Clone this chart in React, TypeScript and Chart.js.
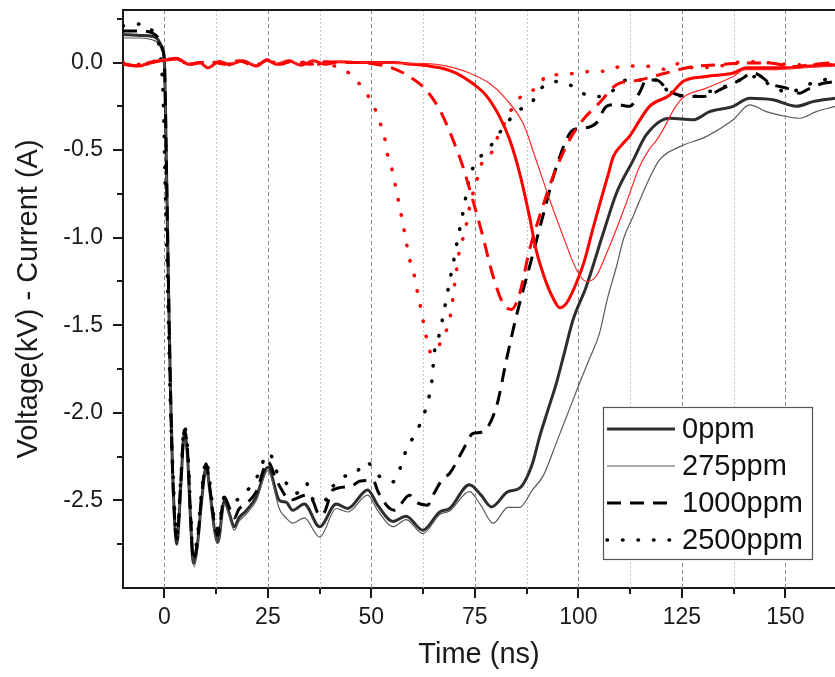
import React, { useEffect, useRef } from "react";
import { Chart, registerables } from "chart.js";

Chart.register(...registerables);

const FONT = "'Liberation Sans', Arial, sans-serif";

// ---- axis ticks ----
const xTickValues = [0, 12.5, 25, 37.5, 50, 62.5, 75, 87.5, 100, 112.5, 125, 137.5, 150];
const yTickValues = [0.25, 0, -0.25, -0.5, -0.75, -1, -1.25, -1.5, -1.75, -2, -2.25, -2.5, -2.75];
const X_MIN = -10;
const X_MAX = 162;
const Y_MIN = -3.0;
const Y_MAX = 0.3;

const legendLabels = ["0ppm", "275ppm", "1000ppm", "2500ppm"];

// ---- black series: voltage (kV) ----
const v0_t = [-10, -6, -3, -1.5, -0.5, 0, 0.5, 1, 1.5, 2, 3, 4, 4.8, 5.6, 6.3, 7, 8, 9, 10.1, 11, 12, 12.9, 14.5, 15.5, 16.9, 18, 19.7, 22.2, 25, 27.8, 29.4, 31, 33.8, 37.5, 41.5, 44.3, 49.1, 51.6, 55.2, 58.4, 62.4, 66.5, 68.9, 73.7, 76.5, 79.0, 83.0, 85.8, 88.9, 90.6, 92.7, 94.7, 96.7, 98.7, 101.9, 106.0, 109.2, 113.2, 116.4, 122.1, 127.7, 131.7, 137.4, 141.4, 147.0, 152.7, 156.7, 162];
const v0_y = [0.16, 0.155, 0.15, 0.13, 0.08, 0.0, -0.6, -1.3, -1.9, -2.35, -2.75, -2.4, -2.12, -2.25, -2.6, -2.86, -2.75, -2.5, -2.31, -2.45, -2.65, -2.74, -2.5, -2.56, -2.65, -2.6, -2.56, -2.48, -2.31, -2.5, -2.51, -2.556, -2.52, -2.65, -2.52, -2.546, -2.44, -2.53, -2.62, -2.59, -2.67, -2.566, -2.546, -2.41, -2.47, -2.537, -2.45, -2.43, -2.29, -2.14, -1.98, -1.83, -1.65, -1.47, -1.28, -0.975, -0.746, -0.56, -0.413, -0.318, -0.327, -0.28, -0.25, -0.204, -0.213, -0.25, -0.223, -0.204];

const v275_t = [-10, -6, -3, -1.5, -0.5, 0, 0.5, 1, 1.5, 2, 3, 4, 4.8, 5.6, 6.3, 7.2, 8, 9, 10.1, 11, 12, 12.9, 14.5, 15.5, 16.9, 18, 19.7, 22.2, 25, 27.8, 29.4, 31, 33.8, 37.5, 41.5, 44.3, 49.1, 51.6, 55.2, 58.4, 62.4, 66.5, 68.9, 73.7, 76.5, 79.4, 83.0, 85.8, 88.9, 91.5, 94.7, 97.5, 100.3, 102.7, 105.1, 107, 109.2, 111, 113.2, 116.4, 119.6, 124.5, 130.9, 137.4, 141.4, 145.4, 150.3, 153.5, 157.5, 162];
const v275_y = [0.14, 0.14, 0.13, 0.11, 0.06, -0.02, -0.6, -1.3, -1.9, -2.35, -2.73, -2.42, -2.15, -2.27, -2.62, -2.88, -2.77, -2.52, -2.33, -2.47, -2.67, -2.74, -2.52, -2.58, -2.67, -2.62, -2.58, -2.5, -2.33, -2.55, -2.6, -2.63, -2.6, -2.71, -2.546, -2.566, -2.47, -2.56, -2.65, -2.61, -2.69, -2.58, -2.56, -2.45, -2.53, -2.63, -2.54, -2.54, -2.44, -2.36, -2.17, -2.0, -1.83, -1.69, -1.546, -1.35, -1.166, -1.0, -0.88, -0.7, -0.556, -0.48, -0.423, -0.327, -0.242, -0.28, -0.308, -0.318, -0.28, -0.25];

const v1000_t = [-10, -6, -3, -1.5, -0.5, 0, 0.5, 1, 1.5, 2, 3, 4, 4.8, 5.6, 6.3, 7, 8, 9, 10.1, 11, 12, 12.9, 14.5, 15.5, 16.9, 18, 19.7, 22.2, 25, 27, 28.6, 30.2, 34.2, 35.8, 37.5, 38.7, 40.7, 45.1, 47.1, 50.4, 51.6, 54.4, 55.6, 59.2, 60.8, 63.6, 64.9, 67.3, 68.9, 72.1, 74.5, 76.9, 80.2, 82.6, 85.0, 88.2, 91.4, 94.7, 98.7, 100.7, 104.3, 106.8, 109.2, 112.4, 114.9, 116.4, 118.8, 122.1, 127.7, 130.1, 135.0, 139.0, 142.2, 147.0, 150.3, 153.5, 155.2, 159.1, 162];
const v1000_y = [0.18, 0.18, 0.17, 0.14, 0.08, 0.0, -0.6, -1.3, -1.9, -2.35, -2.72, -2.38, -2.1, -2.22, -2.58, -2.84, -2.73, -2.47, -2.29, -2.43, -2.62, -2.7, -2.48, -2.53, -2.6, -2.55, -2.52, -2.45, -2.28, -2.38, -2.45, -2.5, -2.47, -2.5, -2.585, -2.566, -2.44, -2.42, -2.39, -2.385, -2.45, -2.546, -2.556, -2.47, -2.51, -2.527, -2.47, -2.375, -2.346, -2.213, -2.118, -2.108, -1.966, -1.7, -1.45, -1.166, -0.88, -0.594, -0.385, -0.375, -0.346, -0.25, -0.24, -0.25, -0.166, -0.1, -0.1, -0.166, -0.194, -0.194, -0.146, -0.1, -0.06, -0.127, -0.146, -0.175, -0.156, -0.118, -0.11];

const v2500_t = [-10, -5.6, -2.8, -1.2, -0.3, 0.3, 1, 1.5, 2, 3, 4, 4.8, 5.6, 6.3, 7, 8, 9, 10.1, 11, 12, 12.9, 14.5, 15.7, 17, 19.7, 22.2, 23.8, 25.4, 27.0, 29.4, 31.8, 34.2, 35.8, 38.3, 40.7, 43.1, 45.9, 48.8, 51.6, 55.2, 57.2, 58.4, 60.4, 62.4, 63.6, 64.5, 65.3, 66.5, 67.3, 68.9, 69.7, 70.5, 71.3, 72.1, 72.9, 73.7, 75.3, 78.1, 81.0, 85.2, 88.7, 90.6, 95.1, 97.9, 101.9, 105.1, 109.2, 111.6, 115.6, 119.6, 121.7, 127.7, 131, 135, 139, 143, 147, 151, 155, 159, 162];
const v2500_y = [0.21, 0.22, 0.177, 0.08, -0.2, -0.8, -1.5, -2.0, -2.3, -2.7, -2.36, -2.08, -2.2, -2.55, -2.82, -2.7, -2.45, -2.27, -2.4, -2.6, -2.66, -2.48, -2.48, -2.5, -2.45, -2.375, -2.28, -2.23, -2.33, -2.4, -2.46, -2.4, -2.49, -2.51, -2.42, -2.366, -2.35, -2.28, -2.356, -2.394, -2.3, -2.213, -2.127, -2.03, -1.937, -1.84, -1.64, -1.546, -1.45, -1.25, -1.156, -1.05, -0.956, -0.86, -0.756, -0.66, -0.566, -0.5, -0.4, -0.28, -0.23, -0.156, -0.108, -0.127, -0.185, -0.194, -0.146, -0.1, -0.1, -0.1, -0.166, -0.194, -0.17, -0.14, -0.1, -0.08, -0.14, -0.17, -0.13, -0.1, -0.09];

// ---- red series: current (A) ----
const i0_t = [-10, -6, -3.6, 0.4, 2.8, 6.0, 8.5, 10.5, 13.3, 15.7, 18.9, 22.2, 24.7, 27, 30, 33, 36, 39, 42, 46, 50.4, 55, 60, 64, 67.5, 70.5, 74.5, 77.8, 81.0, 83.4, 85.8, 88.2, 89.8, 92.3, 94, 95.5, 97.1, 99.5, 101.5, 103.5, 105.5, 107.2, 108.4, 110.5, 112.4, 114.8, 117.2, 122.1, 125.3, 130.9, 137.4, 140.6, 147, 151.5, 156, 162];
const i0_y = [-0.01, -0.02, 0, 0.015, 0.025, -0.01, 0, -0.03, 0.006, -0.01, 0.01, -0.02, 0.015, -0.01, 0.01, -0.015, 0.01, -0.01, 0.005, 0, 0, 0, -0.01, -0.02, -0.035, -0.06, -0.12, -0.19, -0.31, -0.44, -0.63, -0.88, -1.07, -1.26, -1.35, -1.4, -1.375, -1.26, -1.13, -0.95, -0.78, -0.64, -0.54, -0.47, -0.42, -0.33, -0.25, -0.185, -0.108, -0.08, -0.06, -0.03, -0.03, -0.03, -0.02, -0.013];

const i275_t = [-10, -6, -3.6, 0.4, 2.8, 6.0, 8.5, 10.5, 13.3, 15.7, 18.9, 22.2, 24.7, 27, 30, 33, 36, 39, 42, 46, 50.4, 55, 60, 66.5, 70, 73.7, 78.6, 82.6, 86.7, 89.8, 93.1, 96.3, 99.5, 101.9, 104.3, 106.8, 109.2, 111.6, 114.8, 117, 119, 121, 123, 125.3, 130.9, 137.4, 140.2, 147, 153.5, 162];
const i275_y = [0, -0.015, 0.005, 0.02, 0.02, -0.005, 0.005, -0.025, 0.01, -0.005, 0.01, -0.015, 0.02, -0.005, 0.01, -0.01, 0.01, -0.005, 0.005, 0, 0, -0.005, -0.005, -0.013, -0.03, -0.06, -0.12, -0.21, -0.35, -0.556, -0.785, -0.99, -1.18, -1.25, -1.22, -1.09, -0.95, -0.8, -0.594, -0.5, -0.44, -0.36, -0.27, -0.2, -0.146, -0.08, -0.04, -0.04, -0.03, -0.02];

const i1000_t = [-10, -6, -3, 0.4, 3, 6, 9, 12, 15, 18, 22, 25, 28, 31, 35, 39, 43, 47, 51, 53.5, 56, 59.2, 63.2, 66.5, 69.7, 72.1, 74.5, 76.9, 79.4, 81.8, 83.8, 85.8, 88.2, 90.6, 93.9, 97.9, 101.1, 105.1, 109.2, 114.8, 121.2, 127.7, 133.4, 140.6, 146, 151.9, 157, 162];
const i1000_y = [-0.01, -0.02, 0, 0.015, 0.02, -0.01, 0, 0, -0.01, 0.01, -0.02, 0.015, -0.01, 0.01, -0.01, 0.005, 0, 0, -0.01, -0.02, -0.04, -0.08, -0.156, -0.27, -0.44, -0.594, -0.785, -0.99, -1.22, -1.375, -1.41, -1.32, -1.07, -0.88, -0.65, -0.44, -0.327, -0.23, -0.127, -0.1, -0.06, -0.023, -0.013, -0.003, -0.003, -0.023, -0.01, 0];

const i2500_t = [-10, -6, -3, 0.4, 3, 6, 9, 12, 15, 18, 22, 25, 28, 31, 35, 38, 41.5, 45.1, 48.0, 50.4, 52.0, 53.2, 54.0, 55.2, 56.0, 56.8, 57.6, 58.4, 59.2, 60.4, 61.2, 62.0, 63.2, 64.5, 65.5, 67.3, 68.9, 70.1, 71.3, 72.5, 74.1, 75.3, 76.5, 78.9, 80.6, 82.5, 84.3, 87, 90.6, 92.3, 96, 99.5, 103.5, 106.8, 110, 113.5, 117.6, 121.3, 124.9, 127.7, 133.4, 140.6, 145, 152.7, 162];
const i2500_y = [0, -0.01, 0.005, 0.015, 0.02, -0.01, 0, 0, -0.015, 0.01, -0.015, 0.01, -0.01, 0.01, -0.005, -0.01, -0.023, -0.07, -0.15, -0.24, -0.337, -0.43, -0.537, -0.63, -0.727, -0.82, -0.918, -1.02, -1.12, -1.22, -1.32, -1.41, -1.56, -1.66, -1.65, -1.566, -1.47, -1.27, -1.07, -0.975, -0.785, -0.69, -0.585, -0.52, -0.42, -0.33, -0.25, -0.175, -0.137, -0.07, -0.07, -0.06, -0.05, -0.05, -0.023, -0.02, -0.023, -0.04, 0, -0.03, -0.023, 0.006, 0, -0.013, -0.013];

// ---- styles ----
type LineStyle = { color: string; width: number; dash: number[]; cap: CanvasLineCap };
const blackStyles: LineStyle[] = [
  { color: "#2e2e2e", width: 3, dash: [], cap: "butt" },
  { color: "#5a5a5a", width: 1.2, dash: [], cap: "butt" },
  { color: "#000000", width: 3, dash: [14, 9], cap: "butt" },
  { color: "#000000", width: 3.5, dash: [0.5, 15], cap: "round" },
];
const redStyles: LineStyle[] = [
  { color: "#ff0000", width: 3, dash: [], cap: "butt" },
  { color: "#ff2a2a", width: 1.2, dash: [], cap: "butt" },
  { color: "#ff0000", width: 3, dash: [14, 9], cap: "butt" },
  { color: "#ff0000", width: 3.5, dash: [0.5, 15], cap: "round" },
];

const toPoints = (t: number[], y: number[]) => t.map((x, i) => ({ x, y: y[i] }));

const isMultiple = (v: number, step: number) => Math.abs(v / step - Math.round(v / step)) < 1e-6;

const decorPlugin = {
  id: "decor",
  beforeDatasetsDraw(chart: any) {
    const { ctx, chartArea } = chart;
    const xs = chart.scales.x;
    ctx.save();
    for (const v of xTickValues) {
      const px = Math.round(xs.getPixelForValue(v)) + 0.5;
      const major = isMultiple(v, 25);
      ctx.strokeStyle = major ? "#8a8a8a" : "#c4c4c4";
      ctx.lineWidth = 1;
      ctx.setLineDash(major ? [4, 3] : [2, 2]);
      ctx.beginPath();
      ctx.moveTo(px, chartArea.top);
      ctx.lineTo(px, chartArea.bottom);
      ctx.stroke();
    }
    ctx.restore();
  },
  afterDraw(chart: any) {
    const { ctx, chartArea } = chart;
    const xs = chart.scales.x;
    const ys = chart.scales.y;
    ctx.save();
    ctx.strokeStyle = "#1a1a1a";
    ctx.lineWidth = 2;
    ctx.setLineDash([]);
    // top frame line
    ctx.beginPath();
    ctx.moveTo(chartArea.left, chartArea.top);
    ctx.lineTo(chartArea.right, chartArea.top);
    ctx.stroke();
    // x tick marks
    for (const v of xTickValues) {
      const px = Math.round(xs.getPixelForValue(v));
      const len = isMultiple(v, 25) ? 10 : 6;
      ctx.beginPath();
      ctx.moveTo(px, chartArea.bottom);
      ctx.lineTo(px, chartArea.bottom + len);
      ctx.stroke();
    }
    // y tick marks
    for (const v of yTickValues) {
      const py = Math.round(ys.getPixelForValue(v));
      const len = isMultiple(v, 0.5) ? 10 : 6;
      ctx.beginPath();
      ctx.moveTo(chartArea.left - len, py);
      ctx.lineTo(chartArea.left, py);
      ctx.stroke();
    }
    // legend
    const lx = chartArea.right - 232;
    const ly = chartArea.bottom - 181;
    const lw = 209;
    const lh = 152;
    ctx.fillStyle = "#ffffff";
    ctx.fillRect(lx, ly, lw, lh);
    ctx.strokeStyle = "#555555";
    ctx.lineWidth = 1.2;
    ctx.strokeRect(lx + 0.5, ly + 0.5, lw, lh);
    ctx.font = `29px ${FONT}`;
    ctx.textBaseline = "middle";
    ctx.textAlign = "left";
    legendLabels.forEach((label, i) => {
      const st = blackStyles[i];
      const yy = ly + 22 + i * 37;
      ctx.strokeStyle = st.color;
      ctx.lineWidth = st.width;
      ctx.setLineDash(st.dash);
      ctx.lineCap = st.cap;
      ctx.beginPath();
      ctx.moveTo(lx + 4, yy);
      ctx.lineTo(lx + 72, yy);
      ctx.stroke();
      ctx.setLineDash([]);
      ctx.lineCap = "butt";
      ctx.fillStyle = "#111111";
      ctx.fillText(label, lx + 79, yy + 1);
    });
    ctx.restore();
  },
};

export default function App() {
  const canvasRef = useRef<HTMLCanvasElement | null>(null);

  useEffect(() => {
    const canvas = canvasRef.current;
    if (!canvas) return;

    const mk = (label: string, t: number[], y: number[], st: LineStyle, order: number) => ({
      label,
      data: toPoints(t, y),
      borderColor: st.color,
      borderWidth: st.width,
      borderDash: st.dash,
      borderCapStyle: st.cap,
      borderJoinStyle: "round",
      pointRadius: 0,
      fill: false,
      cubicInterpolationMode: "monotone",
      order,
    });

    const datasets = [
      mk("0ppm V", v0_t, v0_y, blackStyles[0], 10),
      mk("275ppm V", v275_t, v275_y, blackStyles[1], 9),
      mk("1000ppm V", v1000_t, v1000_y, blackStyles[2], 8),
      mk("2500ppm V", v2500_t, v2500_y, blackStyles[3], 7),
      mk("0ppm I", i0_t, i0_y, redStyles[0], 4),
      mk("275ppm I", i275_t, i275_y, redStyles[1], 3),
      mk("1000ppm I", i1000_t, i1000_y, redStyles[2], 2),
      mk("2500ppm I", i2500_t, i2500_y, redStyles[3], 1),
    ];

    const chart = new Chart(canvas, {
      type: "line",
      data: { datasets: datasets as any },
      options: {
        animation: false,
        responsive: false,
        maintainAspectRatio: false,
        layout: { padding: { top: 10, left: 0, right: 0, bottom: 0 } },
        plugins: { legend: { display: false }, tooltip: { enabled: false } },
        scales: {
          x: {
            type: "linear",
            min: X_MIN,
            max: X_MAX,
            afterBuildTicks: (s: any) => {
              s.ticks = xTickValues.map((v) => ({ value: v }));
            },
            afterFit: (s: any) => {
              s.height = 89;
              s.paddingLeft = 0;
              s.paddingRight = 0;
            },
            grid: { display: false, drawTicks: false },
            border: { display: true, color: "#1a1a1a", width: 2 },
            ticks: {
              autoSkip: false,
              maxRotation: 0,
              padding: 16,
              color: "#1a1a1a",
              font: { family: FONT, size: 23 },
              callback: (v: any) => (isMultiple(Number(v), 25) ? String(v) : ""),
            },
            title: {
              display: true,
              text: "Time (ns)",
              color: "#1a1a1a",
              font: { family: FONT, size: 29 },
              padding: { top: 0, bottom: 5 },
            },
          },
          y: {
            type: "linear",
            min: Y_MIN,
            max: Y_MAX,
            afterBuildTicks: (s: any) => {
              s.ticks = yTickValues.map((v) => ({ value: v }));
            },
            afterFit: (s: any) => {
              s.width = 123;
              s.paddingTop = 0;
              s.paddingBottom = 0;
            },
            grid: { display: false, drawTicks: false },
            border: { display: true, color: "#1a1a1a", width: 2 },
            ticks: {
              autoSkip: false,
              padding: 20,
              color: "#1a1a1a",
              font: { family: FONT, size: 23 },
              callback: (v: any) => {
                const n = Number(v);
                if (!isMultiple(n, 0.5)) return "";
                return Math.abs(n) < 1e-9 ? "0.0" : n.toFixed(1);
              },
            },
            title: {
              display: true,
              text: "Voltage(kV) - Current (A)",
              color: "#1a1a1a",
              font: { family: FONT, size: 29 },
              padding: { top: 12, bottom: 0 },
            },
          },
        },
      },
      plugins: [decorPlugin],
    });

    return () => chart.destroy();
  }, []);

  return (
    <div style={{ position: "fixed", left: 0, top: 0, width: 835, height: 677, background: "#ffffff" }}>
      <canvas ref={canvasRef} width={835} height={677} style={{ width: 835, height: 677, display: "block" }} />
    </div>
  );
}
